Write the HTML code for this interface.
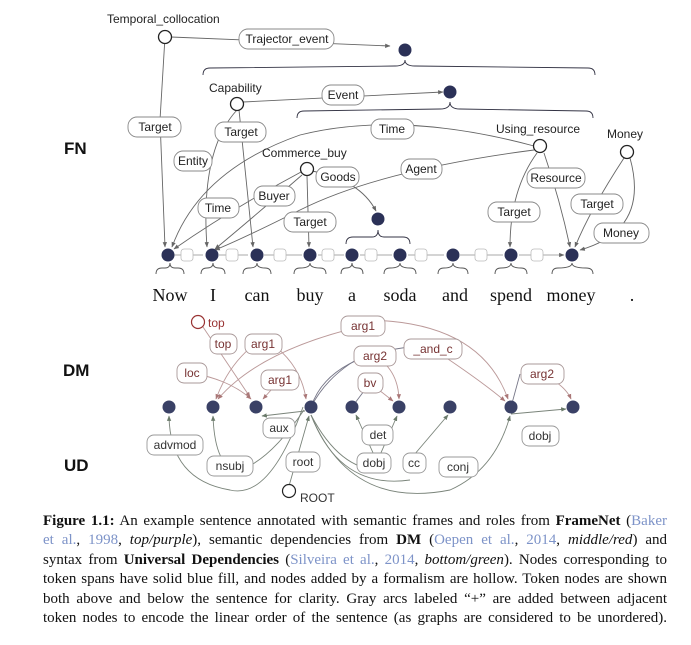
<!DOCTYPE html>
<html><head><meta charset="utf-8"><style>
body{margin:0;background:#fff;width:691px;height:645px;overflow:hidden;position:relative}
svg{position:absolute;left:0;top:0}
.cap{position:absolute;left:43px;top:512px;width:624px;font-family:"Liberation Serif",serif;font-size:15px;line-height:19.4px;color:#111}
.cap div{text-align:justify;text-align-last:justify;white-space:nowrap;height:19.4px}
.cap a{color:#7d93c8;text-decoration:none}
</style></head><body>
<svg width="691" height="645" viewBox="0 0 691 645" font-family="Liberation Sans, sans-serif">
<defs>
<marker id="a" viewBox="0 0 10 10" refX="9" refY="5" markerWidth="6" markerHeight="6" orient="auto"><path d="M0,1L10,5L0,9z" fill="#666"/></marker>
<marker id="r" viewBox="0 0 10 10" refX="9" refY="5" markerWidth="6" markerHeight="6" orient="auto"><path d="M0,1L10,5L0,9z" fill="#a77"/></marker>
<marker id="g" viewBox="0 0 10 10" refX="9" refY="5" markerWidth="6" markerHeight="6" orient="auto"><path d="M0,1L10,5L0,9z" fill="#6a7a6a"/></marker>
</defs>
<g font-weight="bold" font-size="17" fill="#111">
<text x="64" y="154">FN</text><text x="63" y="376">DM</text><text x="64" y="471">UD</text>
</g>
<g fill="none" stroke="#666" stroke-width="0.9">
<path d="M165,37 L160,120 L165,247" marker-end="url(#a)"/>
<path d="M171,37 L390,46" marker-end="url(#a)"/>
<path d="M243,102 L443,92" marker-end="url(#a)"/>
<path d="M237,110 Q200,150 207,247" marker-end="url(#a)"/>
<path d="M239,110 L253,247" marker-end="url(#a)"/>
<path d="M534,146 Q400,110 300,135 Q200,170 172,247" marker-end="url(#a)"/>
<path d="M534,150 Q380,170 300,210 Q240,240 215,250" marker-end="url(#a)"/>
<path d="M301,172 Q230,210 174,249" marker-end="url(#a)"/>
<path d="M302,175 Q250,220 215,249" marker-end="url(#a)"/>
<path d="M307,176 L309,247" marker-end="url(#a)"/>
<path d="M312,171 Q360,180 376,211" marker-end="url(#a)"/>
<path d="M537,153 Q510,190 510,247" marker-end="url(#a)"/>
<path d="M544,153 Q560,200 570,247" marker-end="url(#a)"/>
<path d="M624,158 Q590,210 575,247" marker-end="url(#a)"/>
<path d="M630,158 Q650,230 580,250" marker-end="url(#a)"/>
<path d="M174,255 H203 M219,255 H248 M264,255 H302 M318,255 H344 M360,255 H392 M408,255 H444 M460,255 H503 M519,255 H564" stroke="#aaa" marker-end="url(#a)"/>
</g>
<g fill="none" stroke="#334" stroke-width="0.9">
<path d="M203,75 Q203,68 210,68 L395,66 Q405,66 405,60 Q405,66 415,66 L588,68 Q595,68 595,75"/>
<path d="M297,118 Q297,111 304,111 L440,109 Q450,109 450,102 Q450,109 460,109 L586,111 Q593,111 593,118"/>
<path d="M346,244 Q346,237 353,237 L372,237 Q378,237 378,230 Q378,237 384,237 L403,237 Q410,237 410,244"/>
<g stroke="#555">
<path d="M156,274 Q156,268 162,268 L165,268 Q170,268 170,263 Q170,268 175,268 L178,268 Q184,268 184,274"/>
<path d="M201,274 Q201,268 207,268 Q213,268 213,263 Q213,268 219,268 Q225,268 225,274"/>
<path d="M243,274 Q243,268 249,268 Q257,268 257,263 Q257,268 265,268 Q271,268 271,274"/>
<path d="M294,274 Q294,268 300,268 Q310,268 310,263 Q310,268 320,268 Q326,268 326,274"/>
<path d="M341,274 Q341,268 346,268 Q352,268 352,263 Q352,268 358,268 Q363,268 363,274"/>
<path d="M384,274 Q384,268 390,268 Q400,268 400,263 Q400,268 410,268 Q416,268 416,274"/>
<path d="M438,274 Q438,268 444,268 Q453,268 453,263 Q453,268 462,268 Q468,268 468,274"/>
<path d="M495,274 Q495,268 501,268 Q511,268 511,263 Q511,268 521,268 Q527,268 527,274"/>
<path d="M552,274 Q552,268 558,268 Q572,268 572,263 Q572,268 586,268 Q593,268 593,274"/>
</g></g>
<g fill="#2b3157">
<circle cx="168" cy="255" r="6.5"/><circle cx="212" cy="255" r="6.5"/><circle cx="257" cy="255" r="6.5"/><circle cx="310" cy="255" r="6.5"/><circle cx="352" cy="255" r="6.5"/><circle cx="400" cy="255" r="6.5"/><circle cx="453" cy="255" r="6.5"/><circle cx="511" cy="255" r="6.5"/><circle cx="572" cy="255" r="6.5"/>
<circle cx="405" cy="50" r="6.5"/><circle cx="450" cy="92" r="6.5"/><circle cx="378" cy="219" r="6.5"/>
</g>
<g fill="#fff" stroke="#222" stroke-width="1.3">
<circle cx="165" cy="37" r="6.5"/><circle cx="237" cy="104" r="6.5"/><circle cx="307" cy="169" r="6.5"/><circle cx="540" cy="146" r="6.5"/><circle cx="627" cy="152" r="6.5"/>
</g>
<g fill="#fff" stroke="#bbb" stroke-width="0.8">
<rect x="181" y="249" width="12" height="12" rx="3"/><rect x="226" y="249" width="12" height="12" rx="3"/><rect x="274" y="249" width="12" height="12" rx="3"/><rect x="322" y="249" width="12" height="12" rx="3"/><rect x="365" y="249" width="12" height="12" rx="3"/><rect x="415" y="249" width="12" height="12" rx="3"/><rect x="475" y="249" width="12" height="12" rx="3"/><rect x="531" y="249" width="12" height="12" rx="3"/>
</g>
<g font-size="12" fill="#222">
<text x="107" y="23">Temporal_collocation</text><text x="209" y="92">Capability</text><text x="262" y="157">Commerce_buy</text><text x="496" y="133">Using_resource</text><text x="607" y="138">Money</text>
</g>
<g fill="#fff" stroke="#888" stroke-width="0.9">
<rect x="239" y="29" width="95" height="20" rx="9"/><rect x="322" y="85" width="42" height="20" rx="9"/><rect x="128" y="117" width="53" height="20" rx="9"/><rect x="215" y="122" width="51" height="20" rx="9"/><rect x="174" y="151" width="38" height="20" rx="9"/><rect x="371" y="119" width="43" height="20" rx="9"/><rect x="316" y="167" width="43" height="20" rx="9"/><rect x="401" y="159" width="41" height="20" rx="9"/><rect x="527" y="168" width="58" height="20" rx="9"/><rect x="198" y="198" width="41" height="20" rx="9"/><rect x="254" y="186" width="41" height="20" rx="9"/><rect x="284" y="212" width="52" height="20" rx="9"/><rect x="488" y="202" width="52" height="20" rx="9"/><rect x="571" y="194" width="52" height="20" rx="9"/><rect x="594" y="223" width="55" height="20" rx="9"/>
</g>
<g font-size="12" fill="#222" text-anchor="middle">
<text x="287" y="43">Trajector_event</text><text x="343" y="99">Event</text><text x="155" y="131">Target</text><text x="241" y="136">Target</text><text x="193" y="165">Entity</text><text x="392" y="133">Time</text><text x="338" y="181">Goods</text><text x="421" y="173">Agent</text><text x="556" y="182">Resource</text><text x="218" y="212">Time</text><text x="274" y="200">Buyer</text><text x="310" y="226">Target</text><text x="514" y="216">Target</text><text x="597" y="208">Target</text><text x="621" y="237">Money</text>
</g>
<g font-family="Liberation Serif, serif" font-size="18" fill="#111" text-anchor="middle">
<text x="170" y="301">Now</text><text x="213" y="301">I</text><text x="257" y="301">can</text><text x="310" y="301">buy</text><text x="352" y="301">a</text><text x="400" y="301">soda</text><text x="455" y="301">and</text><text x="511" y="301">spend</text><text x="571" y="301">money</text><text x="632" y="301">.</text>
</g>
<g fill="none" stroke="#b99" stroke-width="0.9">
<path d="M203,327 L250,397" marker-end="url(#r)"/>
<path d="M192,373 Q230,380 251,399" marker-end="url(#r)"/>
<path d="M263,338 Q230,360 216,399" marker-end="url(#r)"/>
<path d="M263,338 Q300,360 306,399" marker-end="url(#r)"/>
<path d="M280,380 L263,399" marker-end="url(#r)"/>
<path d="M363,326 Q260,350 218,399" marker-end="url(#r)"/>
<path d="M363,320 Q480,320 508,399" marker-end="url(#r)"/>
<path d="M375,356 Q398,370 399,399" marker-end="url(#r)"/>
<path d="M370,383 L393,401" marker-end="url(#r)"/>
<path d="M433,349 Q480,380 505,401" marker-end="url(#r)"/>
<path d="M542,374 Q565,385 571,399" marker-end="url(#r)"/>
</g>
<g fill="none" stroke="#778" stroke-width="0.9">
<path d="M311,407 Q330,350 433,345"/>
<path d="M311,407 Q330,370 375,350"/>
<path d="M520,374 L511,407"/>
<path d="M370,383 L352,407"/>
</g>
<g fill="none" stroke="#7a847a" stroke-width="0.9">
<path d="M303,407 Q270,500 230,490 Q170,480 169,416" marker-end="url(#g)"/>
<path d="M304,410 Q270,460 240,470 Q215,470 213,416" marker-end="url(#g)"/>
<path d="M305,411 L262,416" marker-end="url(#g)"/>
<path d="M311,415 Q340,470 380,470"/>
<path d="M311,415 Q340,490 410,480"/>
<path d="M311,415 Q350,510 450,490 Q495,470 510,416" marker-end="url(#g)"/>
<path d="M289,486 L309,416" marker-end="url(#g)"/>
<path d="M374,455 L356,415" marker-end="url(#g)"/>
<path d="M380,455 L397,416" marker-end="url(#g)"/>
<path d="M414,455 L448,415" marker-end="url(#g)"/>
<path d="M511,414 L566,409" marker-end="url(#g)"/>
</g>
<g fill="#3a4166">
<circle cx="169" cy="407" r="6.5"/><circle cx="213" cy="407" r="6.5"/><circle cx="256" cy="407" r="6.5"/><circle cx="311" cy="407" r="6.5"/><circle cx="352" cy="407" r="6.5"/><circle cx="399" cy="407" r="6.5"/><circle cx="450" cy="407" r="6.5"/><circle cx="511" cy="407" r="6.5"/><circle cx="573" cy="407" r="6.5"/>
</g>
<circle cx="198" cy="322" r="6.5" fill="#fff" stroke="#933" stroke-width="1.2"/>
<circle cx="289" cy="491" r="6.5" fill="#fff" stroke="#222" stroke-width="1.2"/>
<text x="208" y="327" font-size="12" fill="#933">top</text>
<text x="300" y="502" font-size="12" fill="#333">ROOT</text>
<g fill="#fff" stroke="#a99" stroke-width="0.9">
<rect x="210" y="334" width="27" height="20" rx="7"/><rect x="245" y="334" width="37" height="20" rx="7"/><rect x="341" y="316" width="44" height="20" rx="7"/><rect x="404" y="339" width="58" height="20" rx="7"/><rect x="354" y="346" width="42" height="20" rx="7"/><rect x="177" y="363" width="30" height="20" rx="7"/><rect x="261" y="370" width="38" height="20" rx="7"/><rect x="358" y="373" width="25" height="20" rx="7"/><rect x="521" y="364" width="43" height="20" rx="7"/>
</g>
<g fill="#fff" stroke="#999" stroke-width="0.9">
<rect x="263" y="418" width="32" height="20" rx="7"/><rect x="362" y="425" width="31" height="20" rx="7"/><rect x="522" y="426" width="37" height="20" rx="7"/><rect x="147" y="435" width="56" height="20" rx="7"/><rect x="207" y="456" width="46" height="20" rx="7"/><rect x="286" y="452" width="34" height="20" rx="7"/><rect x="357" y="453" width="34" height="20" rx="7"/><rect x="403" y="453" width="23" height="20" rx="7"/><rect x="439" y="457" width="39" height="20" rx="7"/>
</g>
<g font-size="12" text-anchor="middle" fill="#733">
<text x="223" y="348">top</text><text x="263" y="348">arg1</text><text x="363" y="330">arg1</text><text x="433" y="353">_and_c</text><text x="375" y="360">arg2</text><text x="192" y="377">loc</text><text x="280" y="384">arg1</text><text x="370" y="387">bv</text><text x="542" y="378">arg2</text>
</g>
<g font-size="12" text-anchor="middle" fill="#333">
<text x="279" y="432">aux</text><text x="378" y="439">det</text><text x="540" y="440">dobj</text><text x="175" y="449">advmod</text><text x="230" y="470">nsubj</text><text x="303" y="466">root</text><text x="374" y="467">dobj</text><text x="414" y="467">cc</text><text x="458" y="471">conj</text>
</g>
</svg>
<div class="cap">
<div><b>Figure 1.1:</b> An example sentence annotated with semantic frames and roles from <b>FrameNet</b> (<a>Baker</a></div>
<div><a>et al.</a>, <a>1998</a>, <i>top/purple</i>), semantic dependencies from <b>DM</b> (<a>Oepen et al.</a>, <a>2014</a>, <i>middle/red</i>) and</div>
<div>syntax from <b>Universal Dependencies</b> (<a>Silveira et al.</a>, <a>2014</a>, <i>bottom/green</i>). Nodes corresponding to</div>
<div>token spans have solid blue fill, and nodes added by a formalism are hollow. Token nodes are shown</div>
<div>both above and below the sentence for clarity. Gray arcs labeled “+” are added between adjacent</div>
<div>token nodes to encode the linear order of the sentence (as graphs are considered to be unordered).</div>
</div>
</body></html>
